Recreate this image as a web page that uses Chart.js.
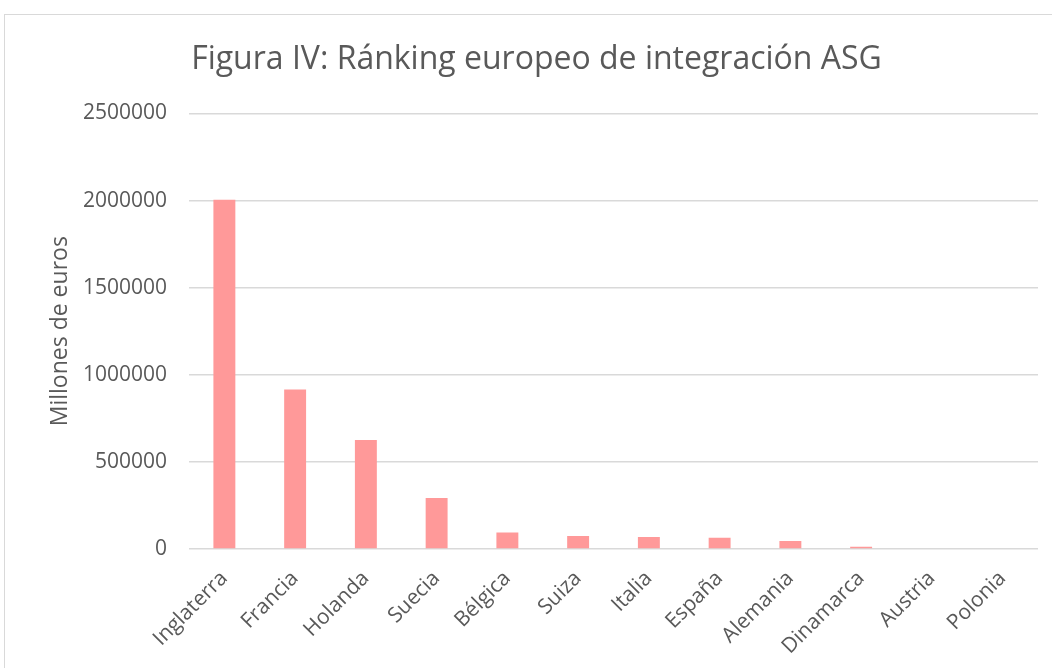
<!DOCTYPE html>
<html>
<head>
<meta charset="utf-8">
<script src="https://cdn.jsdelivr.net/npm/chart.js@4"></script>
<style>
  body { margin: 0; background: #fff; }
  #box {
    position: absolute; left: 4px; top: 14px;
    width: 1047px; height: 660px;
    border: 1px solid #d9d9d9; border-right: none; border-bottom: none;
  }
</style>
</head>
<body>
<div id="box"><canvas id="rankChart" width="1047" height="654"></canvas></div>
<script>
const paises = ['Inglaterra', 'Francia', 'Holanda', 'Suecia', 'Bélgica', 'Suiza',
  'Italia', 'España', 'Alemania', 'Dinamarca', 'Austria', 'Polonia'];
const millones = [2005000, 915000, 625000, 293000, 94000, 75000,
  69000, 64000, 46000, 13000, 0, 0];
const yTicks = [0, 500000, 1000000, 1500000, 2000000, 2500000];

const gris = '#595959';
const ctx = document.getElementById('rankChart').getContext('2d');

// nudge the title a bit to the right, like the original
const shiftTitle = {
    id: 'shiftTitle',
    afterLayout(c) { c.titleBlock.left += 30; }
};

const chart = new Chart(ctx, {
    type: 'bar',
    data: {
        labels: paises,
        datasets: [{
            label: 'Millones de euros',
            data: millones,
            backgroundColor: '#ff9999',
            categoryPercentage: 1,
            barPercentage: 0.31
        }]
    },
    plugins: [shiftTitle],
    options: {
        responsive: false,
        animation: false,
        layout: { padding: { left: 0, right: 14, top: 0, bottom: 0 } },
        plugins: {
            legend: { display: false },
            tooltip: { enabled: false },
            title: {
                display: true,
                text: 'Figura IV: Ránking europeo de integración ASG',
                color: gris,
                font: { family: 'Open Sans', size: 32, weight: 'normal' },
                padding: { top: 26, bottom: 34 }
            }
        },
        scales: {
            x: {
                grid: { display: false, drawTicks: false },
                border: { display: false },
                ticks: {
                    color: gris,
                    font: { family: 'Open Sans', size: 21 },
                    minRotation: 45,
                    maxRotation: 45,
                    padding: 17
                },
                afterFit: s => { s.height = 120; }
            },
            y: {
                min: 0,
                max: yTicks[yTicks.length - 1],
                afterBuildTicks: s => { s.ticks = yTicks.map(v => ({ value: v })); },
                grid: { color: '#d9d9d9', lineWidth: 1.5, drawTicks: false },
                border: { display: false },
                ticks: {
                    color: gris,
                    font: { family: 'Open Sans', size: 21 },
                    padding: 22,
                    callback: v => String(v)
                },
                title: {
                    display: true,
                    text: 'Millones de euros',
                    color: gris,
                    font: { family: 'Open Sans', size: 23 },
                    padding: { top: 42, bottom: 0 }
                },
                afterFit: s => { s.width = 184; }
            }
        }
    }
});
</script>
</body>
</html>
